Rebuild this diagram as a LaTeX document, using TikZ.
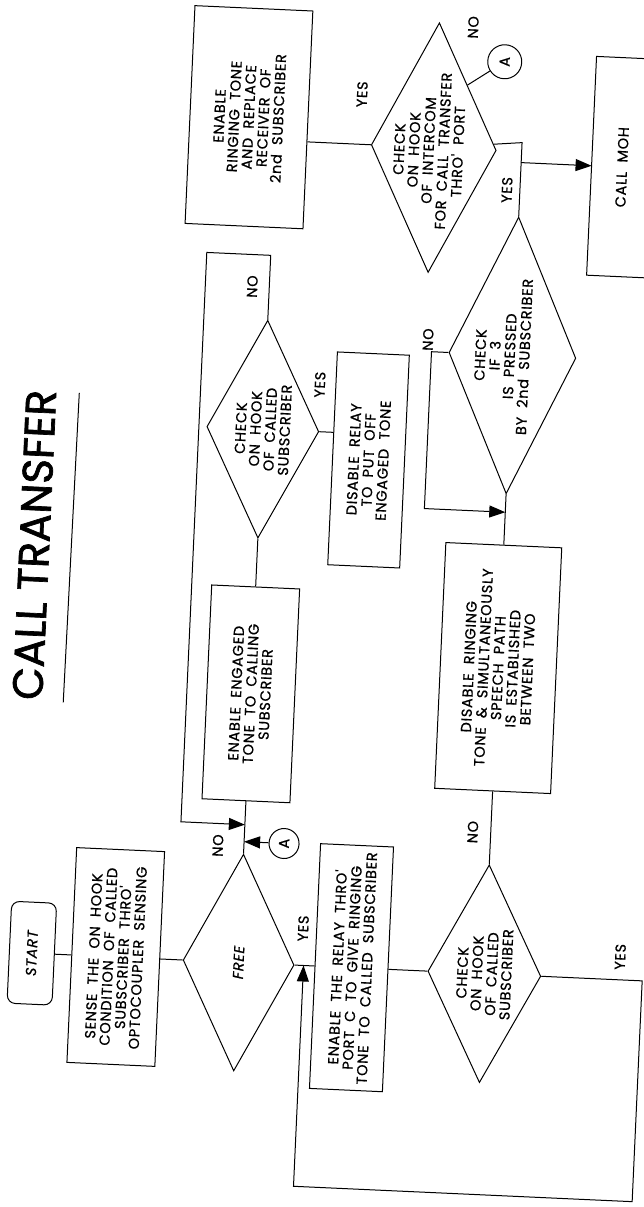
\documentclass[tikz,border=0pt]{standalone}
\usepackage{graphicx}
\usepackage{fontspec}
\setmainfont{Poppins}
\newfontfamily\diafont{Poppins}[FakeBold=0.8, WordSpace=2, LetterSpace=5]
\newfontfamily\titlefont{Poppins}[FakeBold=1.6]
\usetikzlibrary{arrows.meta,shapes.geometric,calc}
\begin{document}
\begin{tikzpicture}[x=1pt,y=-1pt,
  line width=1pt,
  box/.style={draw, rectangle, inner sep=0pt},
  dia/.style={draw, diamond, inner sep=0pt},
  conn/.style={draw, circle, inner sep=0pt, font=\diafont\fontsize{14.5}{14.7}\selectfont},
  txt/.style={rotate=90, align=center, inner sep=0pt, font=\diafont\fontsize{14.5}{14.7}\selectfont},
  lbl/.style={rotate=90, inner sep=0pt, font=\diafont\fontsize{14.5}{14.7}\selectfont},
  arr/.style={-{Triangle[length=16pt,width=12pt]}},
]
\fill[white] (0,0) rectangle (644,1207);
\useasboundingbox (0,0) rectangle (644,1207);
\clip (0,0) rectangle (644,1207);
\begin{scope}[rotate around={-2.6:(322,603)}, transform shape]
% title
\node[inner sep=0pt, rotate=90] (title) at (32,558) {\resizebox{310pt}{30pt}{\titlefont CALL TRANSFER}};
\draw (70,404) -- (68,714);

% top row
\node[box, minimum width=118pt, minimum height=218pt] (rbox) at (227,121) {};
\node[txt] (trbox) at (rbox) {ENABLE\\RINGING TONE\\AND REPLACE\\RECEIVER OF\\2nd SUBSCRIBER};
\node[dia, minimum width=125pt, minimum height=250pt] (d4) at (413,143) {};
\node[txt] (td4) at (408,146) {CHECK\\ON HOOK\\OF INTERCOM\\FOR CALL TRANSFER\\THRO' PORT};
\node[conn, minimum size=34pt] (a1) at (480,54) {\rotatebox{90}{A}};
\node[inner sep=0pt, minimum width=60pt, minimum height=218pt, font=\diafont\fontsize{14.5}{14.7}\selectfont] (moh) at (602,154) {\rotatebox{90}{CALL MOH}};
\draw ($(moh.north west)+(100,0)$) -- (moh.north west) -- (moh.south west) -- ++(100,0);

\coordinate (j1) at (501,134);
\coordinate (j2) at (501,154);
\node[dia, minimum width=127pt, minimum height=277pt] (d3) at (501,347) {};
\node[txt] (td3) at (491,348) {CHECK\\IF 3\\IS PRESSED\\BY 2nd SUBSCRIBER};
\coordinate (j3) at (501,504);
\node[box, minimum width=116pt, minimum height=246pt] (disr) at (501,660) {};
\node[txt] (tdisr) at (disr) {DISABLE RINGING\\TONE \& SIMULTANEOUSLY\\SPEECH PATH\\IS ESTABLISHED\\BETWEEN TWO};

% middle column
\node[dia, minimum width=112pt, minimum height=218pt] (d2a) at (255,432) {};
\node[txt] (td2a) at (d2a) {CHECK\\ON HOOK\\OF CALLED\\SUBSCRIBER};
\node[box, minimum width=72pt, minimum height=213pt] (disrel) at (362,458) {};
\node[txt] (tdisrel) at (disrel) {DISABLE RELAY\\TO PUT OFF\\ENGAGED TONE};
\node[box, minimum width=88pt, minimum height=214pt] (eng) at (255,697) {};
\node[txt] (teng) at (eng) {ENABLE ENGAGED\\TONE TO CALLING\\SUBSCRIBER};

% bottom row
\node[box, rounded corners=8pt, minimum width=45pt, minimum height=102pt] (start) at (48,966) {};
\node[txt] (tstart) at (start) {\itshape START};
\node[box, minimum width=88pt, minimum height=215pt] (sense) at (132,966) {};
\node[txt] (tsense) at (sense) {SENSE THE ON HOOK\\CONDITION OF CALLED\\SUBSCRIBER THRO'\\OPTOCOUPLER SENSING};
\node[dia, minimum width=111pt, minimum height=217pt] (free) at (255,966) {};
\node[txt] (tfree) at (free) {\itshape FREE};
\node[box, minimum width=73pt, minimum height=245pt] (relay) at (368,966) {};
\node[txt] (trelay) at (relay) {ENABLE THE RELAY THRO'\\PORT C TO GIVE RINGING\\TONE TO CALLED SUBSCRIBER};
\node[dia, minimum width=113pt, minimum height=218pt] (d2b) at (501,966) {};
\node[txt] (td2b) at (d2b) {CHECK\\ON HOOK\\OF CALLED\\SUBSCRIBER};
\node[conn, minimum size=30pt] (a2) at (295,845) {\rotatebox{90}{A}};
\coordinate (j4) at (320,966);
\coordinate (j5) at (255,828);
\coordinate (j6) at (255,845);

% connectors
\draw (d4.west) -- (d4.west -| rbox.east);
\draw (a1) -- ($(d4.north)!0.49!(d4.east)$);
\draw (d3.north) -- (j1) -- (d4);
\draw[arr] (j2) -- (j2 -| moh.west);
\draw[arr] (d3.west) -| (420,504) -- (j3);
\draw (d3.south) -- (disr.north);
\draw (disr.south) -- (d2b.north);
\draw[arr] (d2b.east) -| (659,1187) -| (j4);
\draw (start.east) -- (sense.west);
\draw (sense.east) -- (free.west);
\draw (free.east) -- (relay.west);
\draw (relay.east) -- (d2b.west);
\draw (d2a.east) -- (d2a.east -| disrel.west);
\draw (d2a.south) -- (eng.north);
\draw (eng.south) -- (free.north);
\draw[arr] (d2a.north) |- (191,258) |- (j5);
\draw[arr] (a2) -- (j6);

% labels
\node[lbl] (l1) at (339,93) {YES};
\node[lbl] (l2) at (447,21) {NO};
\node[lbl] (l3) at (488,182) {YES};
\node[lbl] (l4) at (416,335) {NO};
\node[lbl] (l5) at (310,385) {YES};
\node[lbl] (l6) at (238,290) {NO};
\node[lbl] (l7) at (229,850) {NO};
\node[lbl] (l8) at (318,929) {YES};
\node[lbl] (l9) at (483,825) {NO};
\node[lbl] (l10) at (636,943) {YES};
\end{scope}
\end{tikzpicture}
\end{document}
